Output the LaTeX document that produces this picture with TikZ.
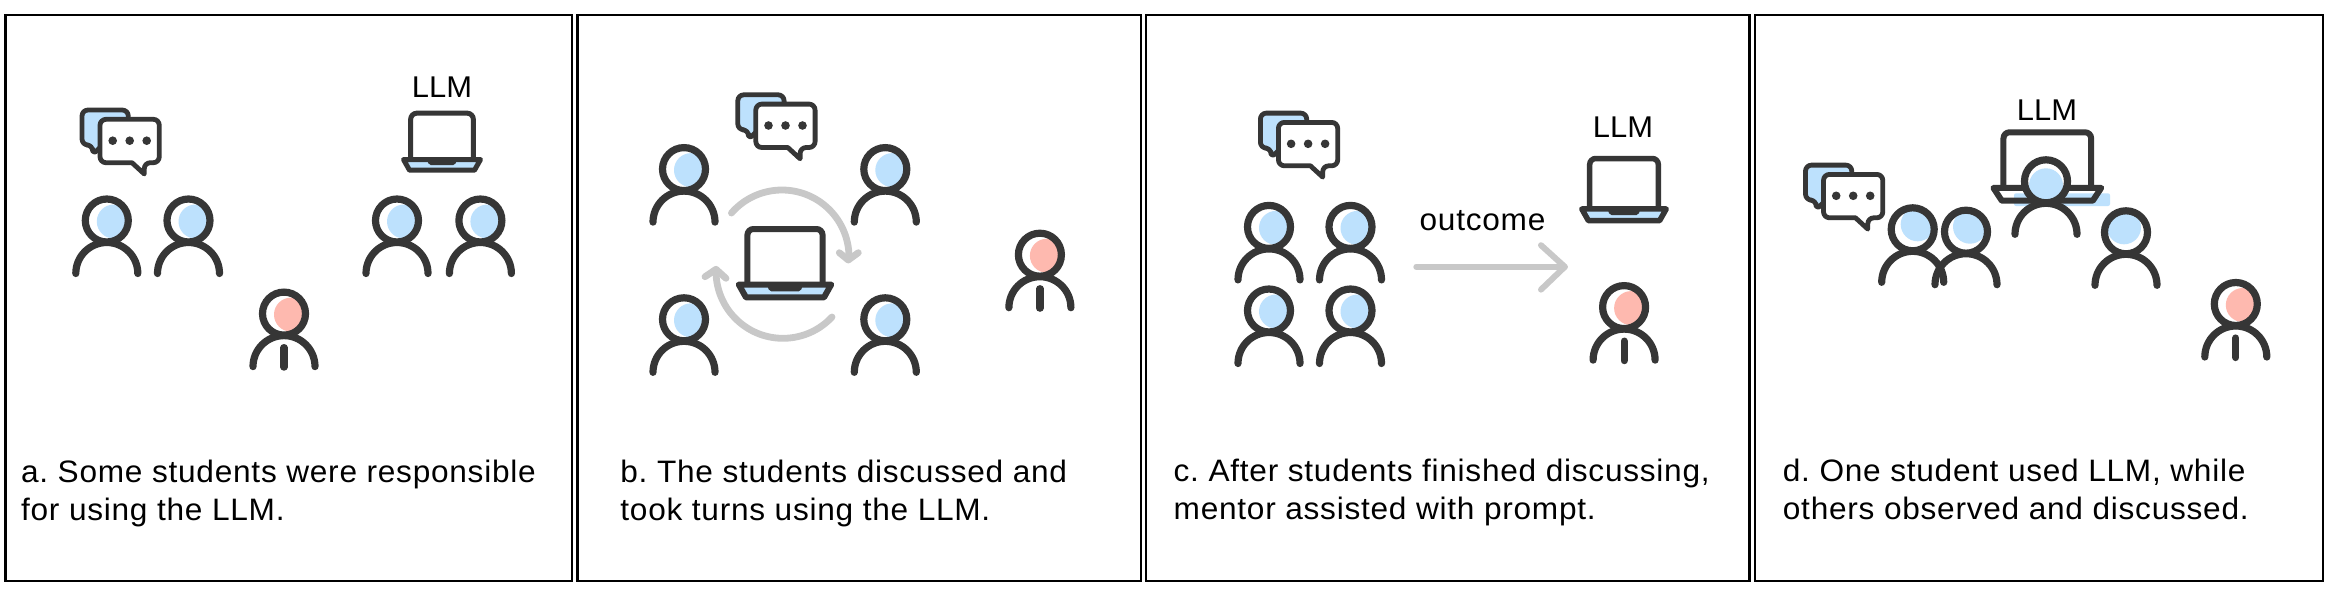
\documentclass[tikz,border=0pt]{standalone}
\usepackage{fontspec}
\setmainfont{Liberation Sans}
\newfontfamily\capfont[LetterSpace=2.4,FakeStretch=1.02]{Liberation Sans}
\newfontfamily\tagfont[FakeStretch=1.03]{Liberation Sans}
\definecolor{ink}{HTML}{363636}
\definecolor{sky}{HTML}{BDE1FD}
\definecolor{rose}{HTML}{FEB9AF}
\definecolor{ash}{HTML}{C8C8C8}
\tikzset{
  panel/.style={draw=black,line width=1.2pt,fill=white},
  caption/.style={anchor=base west,align=left,inner sep=0pt,font=\capfont\frenchspacing\fontsize{15.5}{19}\selectfont},
  tag/.style={anchor=base,inner sep=0pt,font=\tagfont\fontsize{15}{19}\selectfont},
  wordtag/.style={anchor=base,inner sep=0pt,font=\capfont\fontsize{15.5}{19}\selectfont},
  inkline/.style={draw=ink,line width=3.6pt,line cap=round},
  bubble/.style={draw=ink,line width=2.4pt,line join=round,rounded corners=3pt},
  flow/.style={draw=ash,line width=3.4pt,line cap=round,line join=round}
}
% head centre x, y, fill colour, fill offset x, y
\newcommand{\personbase}[5]{%
  \fill[white] (#1,#2) circle[radius=22];
  \fill[#3] ({#1+#4},{#2+#5}) circle[radius=17];
  \draw[inkline] (#1,#2) circle[radius=21.5];
  \draw[inkline] ({#1-31},{#2+53}) arc[start angle=180,end angle=360,radius=31];
}
\newcommand{\student}[3][{7,1}]{\def\tmpo{#1}\expandafter\studentb\tmpo\relax{#2}{#3}}
\def\studentb#1,#2\relax#3#4{\personbase{#3}{#4}{sky}{#1}{#2}}
\newcommand{\mentor}[3][{7,1}]{\def\tmpo{#1}\expandafter\mentorb\tmpo\relax{#2}{#3}}
\def\mentorb#1,#2\relax#3#4{\personbase{#3}{#4}{rose}{#1}{#2}%
  \draw[inkline] (#3,{#4+34}) -- (#3,{#4+53.5});}
% chat icon: origin at the front bubble's top left
\newcommand{\chat}[2]{%
  \begin{scope}[shift={(#1,#2)}]
    \draw[bubble,fill=sky] (28.3,10) -- (28.3,-9.3) -- (-18,-9.3) -- (-18,25.7) -- (-7.3,25.7) -- (-7.3,35.7) -- (3,25) -- cycle;
    \draw[bubble,fill=white] (0,0) -- (59.3,0) -- (59.3,43.4) -- (44.3,43.4) {[sharp corners] -- (44.3,54.7) -- (32,43.4)} -- (0,43.4) -- cycle;
    \fill[ink] (12.7,21.4) circle[radius=4.3] (29.7,21.4) circle[radius=4.3] (46.7,21.4) circle[radius=4.3];
  \end{scope}}
% laptop: centre x, screen top y, x scale, y scale, line width, base fill
\newcommand{\laptop}[6]{%
  \begin{scope}[shift={(#1,#2)},xscale=#3,yscale=#4]
    \draw[ink,line width=#5,rounded corners=3pt] (-31.3,46.3) -- (-31.3,0) -- (31.3,0) -- (31.3,46.3);
    \draw[ink,line width=#5,line join=round,fill=#6] (-38.5,46.3) -- (38.5,46.3) -- (32.5,57) -- (-32.5,57) -- cycle;
  \end{scope}}
\newcommand{\notch}[4]{%
  \begin{scope}[shift={(#1,#2)},xscale=#3,yscale=#4]
    \fill[ink,rounded corners=1pt] (-15,46.3) -- (15,46.3) -- (13,52) -- (-13,52) -- cycle;
  \end{scope}}
\begin{document}
\begin{tikzpicture}[x=1pt,y=1pt,scale=0.5,yscale=-1]
\useasboundingbox (0,0) rectangle (2336,596);
\fill[white] (0,0) rectangle (2336,596);
% panels
\draw[panel] (5.6,15.2) rectangle (572.2,580.8);
\draw[panel] (577.5,15.2) rectangle (1140.7,580.8);
\draw[panel] (1145.7,15.2) rectangle (1749.5,580.8);
\draw[panel] (1755,15.2) rectangle (2323,580.8);
% panel a
\chat{100}{119.3}
\node[tag] (llma) at (442,97) {LLM};
\laptop{442}{113.2}{1}{1}{2.5pt}{sky}
\notch{442}{113.2}{1}{1}
\student{106.8}{220.5}
\student{188.5}{220.5}
\student{397}{220.5}
\student{480.4}{220.5}
\mentor{284}{313.6}
\node[caption] (capa) at (20.7,520) {a. Some students were responsible\\for using the LLM.};
% panel b
\chat{755.8}{104.1}
\student{684}{169.1}
\student{885.3}{169.1}
\student{684}{319.3}
\student{885.3}{319.3}
\mentor{1039.9}{254.7}
\draw[flow] (782,257) ++(-139:67) arc[start angle=-139,end angle=0,radius=67];
\draw[flow] (839.3,252.7) -- (848.3,260) -- (858.3,252.7);
\draw[flow] (783,271.3) ++(43:67) arc[start angle=43,end angle=180,radius=67];
\draw[flow] (705,276.7) -- (716,269.3) -- (726,278.3);
\laptop{785}{229}{1.2}{1.2}{3pt}{sky}
\notch{785}{229}{1.2}{1.2}
\node[caption] (capb) at (620,520) {b. The students discussed and\\took turns using the LLM.};
% panel c
\chat{1278.4}{122.4}
\node[tag] (llmc) at (1623,137.6) {LLM};
\laptop{1624}{158.5}{1.096}{1.09}{2.75pt}{sky}
\notch{1624}{158.5}{1.096}{1.09}
\student{1269}{226.9}
\student{1350.5}{226.9}
\student{1269}{310.5}
\student{1350.5}{310.5}
\mentor{1624.1}{307.1}
\node[wordtag] (outc) at (1482.5,230.3) {outcome};
\coordinate (from) at (1416.3,266.8);
\coordinate (tip) at (1564.8,266.8);
\coordinate (up) at (1541,245.2);
\coordinate (dn) at (1541,289.6);
\draw[flow,line width=3pt] (from) -- (tip);
\draw[flow,line width=3pt] (up) -- (tip) -- (dn);
\node[caption] (capc) at (1173.3,519) {c. After students finished discussing,\\mentor assisted with prompt.};
% panel d
\chat{1823.5}{174.4}
\node[tag] (llmd) at (2047,120.5) {LLM};
\fill[sky,rounded corners=1pt] (2014,193.3) rectangle (2110,206);
\laptop{2047.3}{132.3}{1.4}{1.2}{3pt}{none}
\student[{5,-5}]{1912.7}{229.3}
\student[{4,-5}]{1966}{231.7}
\student[{0,4}]{2046}{181.3}
\student[{-2,-5}]{2126}{232.3}
\mentor{2235.8}{304}
\node[caption] (capd) at (1782.5,519) {d. One student used LLM, while\\others observed and discussed.};
\end{tikzpicture}
\end{document}
